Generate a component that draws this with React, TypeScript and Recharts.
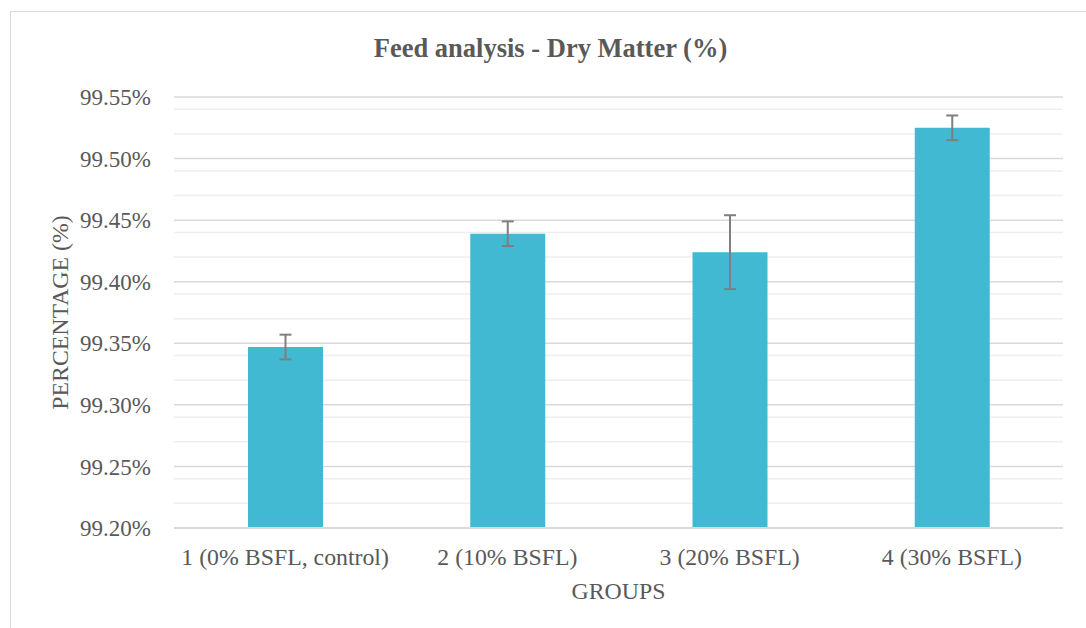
import React from 'react';
import { BarChart, Bar, XAxis, YAxis, CartesianGrid, ErrorBar } from 'recharts';

// Groups on the x axis
const groups = ['1 (0% BSFL, control)', '2 (10% BSFL)', '3 (20% BSFL)', '4 (30% BSFL)'];
// Dry matter mean (%) per group
const dryMatter = [99.347, 99.439, 99.424, 99.525];
// Error (+/-) per group
const errors = [0.01, 0.01, 0.03, 0.01];

const majorTicks = [99.2, 99.25, 99.3, 99.35, 99.4, 99.45, 99.5, 99.55];
const minorTicks = [
  99.21, 99.22, 99.23, 99.24, 99.26, 99.27, 99.28, 99.29,
  99.31, 99.32, 99.33, 99.34, 99.36, 99.37, 99.38, 99.39,
  99.41, 99.42, 99.43, 99.44, 99.46, 99.47, 99.48, 99.49,
  99.51, 99.52, 99.53, 99.54,
];

const data = groups.map((g, i) => ({ group: g, value: dryMatter[i], err: errors[i] }));

const FONT = 'Liberation Serif, Tinos, DejaVu Serif, serif';
const TEXT = '#595959';

const YLabel = ({ viewBox }: any) => {
  const cy = viewBox.y + viewBox.height / 2;
  const x = 68;
  return (
    <text
      x={x}
      y={cy}
      transform={`rotate(-90, ${x}, ${cy})`}
      textAnchor="middle"
      fill={TEXT}
      fontSize={23.8}
      style={{ fontFamily: FONT }}
    >
      PERCENTAGE (%)
    </text>
  );
};

const XLabel = ({ viewBox }: any) => {
  const cx = viewBox.x + viewBox.width / 2;
  return (
    <text x={cx} y={599} textAnchor="middle" fill={TEXT} fontSize={23.8} style={{ fontFamily: FONT }}>
      GROUPS
    </text>
  );
};

export default function App() {
  return (
    <div style={{ position: 'absolute', left: 0, top: 0, width: 1086, height: 628, background: '#fff', overflow: 'hidden', fontFamily: FONT }}>
      <div
        style={{
          position: 'absolute', left: 10, top: 11, width: 1085, height: 640,
          border: '1px solid #d9d9d9', boxSizing: 'border-box',
        }}
      />
      <div
        style={{
          position: 'absolute', left: 10, top: 35, width: 1081, textAlign: 'center',
          fontFamily: FONT, fontWeight: 'bold', fontSize: 26.5, lineHeight: '26.5px', color: TEXT,
        }}
      >
        Feed analysis - Dry Matter (%)
      </div>
      <div style={{ position: 'absolute', left: 0, top: 0 }}>
        <BarChart width={1086} height={628} data={data} margin={{ top: 97, right: 23, bottom: 40, left: 0 }} style={{ fontFamily: FONT }}>
          <CartesianGrid vertical={false} horizontalValues={minorTicks} stroke="#eeeeee" strokeWidth={1.5} />
          <CartesianGrid vertical={false} horizontalValues={majorTicks} stroke="#d9d9d9" strokeWidth={1.5} />
          <XAxis
            dataKey="group"
            height={60}
            axisLine={{ stroke: '#d9d9d9', strokeWidth: 2 }}
            tickLine={false}
            tickSize={0}
            tickMargin={20}
            interval={0}
            tick={{ fill: TEXT, fontSize: 23.8, fontFamily: FONT }}
            label={<XLabel />}
          />
          <YAxis
            width={174}
            domain={[99.2, 99.55]}
            ticks={majorTicks}
            allowDataOverflow
            axisLine={false}
            tickLine={false}
            tickSize={0}
            tickMargin={23}
            tickFormatter={(v: number) => v.toFixed(2) + '%'}
            tick={{ fill: TEXT, fontSize: 23, fontFamily: FONT }}
            label={<YLabel />}
          />
          <Bar dataKey="value" fill="#41b9d3" barSize={75} isAnimationActive={false}>
            <ErrorBar dataKey="err" direction="y" stroke="#7f7f7f" strokeWidth={2} width={6} />
          </Bar>
        </BarChart>
      </div>
    </div>
  );
}
